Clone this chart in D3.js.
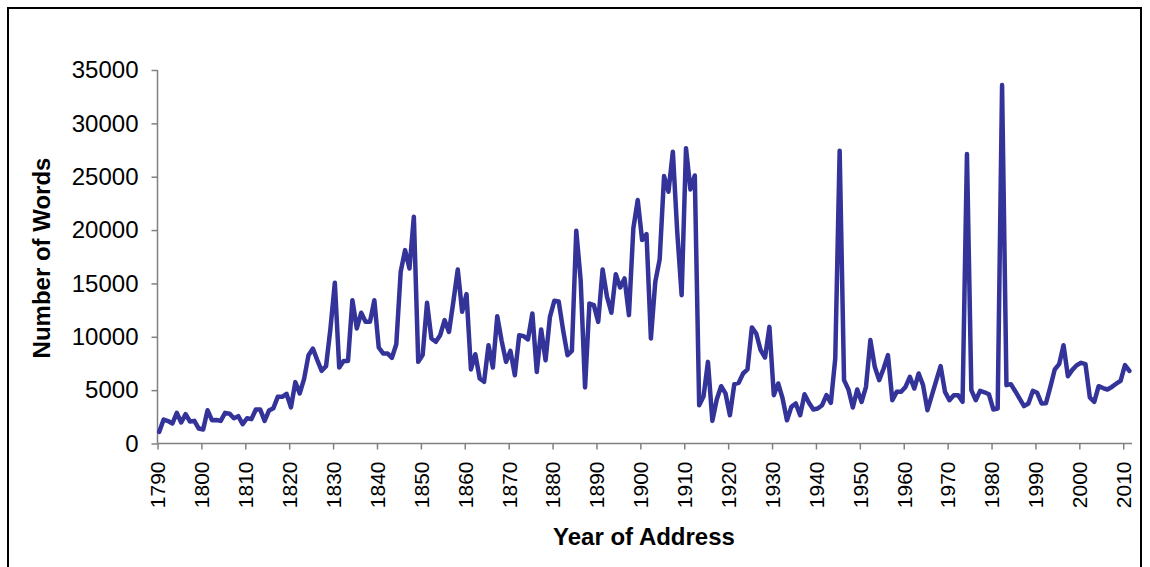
<!DOCTYPE html>
<html>
<head>
<meta charset="utf-8">
<script src="https://cdn.jsdelivr.net/npm/d3@7"></script>
<style>
  body { margin: 0; background: #fff; }
  text { font-family: "Liberation Sans", Arial, sans-serif; }
</style>
</head>
<body>
<svg id="chart" width="1150" height="567"></svg>
<script>
// Year of each address
const years = [
  1790, 1791, 1792, 1793, 1794, 1795, 1796, 1797, 1798, 1799,
  1800, 1801, 1802, 1803, 1804, 1805, 1806, 1807, 1808, 1809,
  1810, 1811, 1812, 1813, 1814, 1815, 1816, 1817, 1818, 1819,
  1820, 1821, 1822, 1823, 1824, 1825, 1826, 1827, 1828, 1829,
  1830, 1831, 1832, 1833, 1834, 1835, 1836, 1837, 1838, 1839,
  1840, 1841, 1842, 1843, 1844, 1845, 1846, 1847, 1848, 1849,
  1850, 1851, 1852, 1853, 1854, 1855, 1856, 1857, 1858, 1859,
  1860, 1861, 1862, 1863, 1864, 1865, 1866, 1867, 1868, 1869,
  1870, 1871, 1872, 1873, 1874, 1875, 1876, 1877, 1878, 1879,
  1880, 1881, 1882, 1883, 1884, 1885, 1886, 1887, 1888, 1889,
  1890, 1891, 1892, 1893, 1894, 1895, 1896, 1897, 1898, 1899,
  1900, 1901, 1902, 1903, 1904, 1905, 1906, 1907, 1908, 1909,
  1910, 1911, 1912, 1913, 1914, 1915, 1916, 1917, 1918, 1919,
  1920, 1921, 1922, 1923, 1924, 1925, 1926, 1927, 1928, 1929,
  1930, 1931, 1932, 1933, 1934, 1935, 1936, 1937, 1938, 1939,
  1940, 1941, 1942, 1943, 1944, 1945, 1946, 1947, 1948, 1949,
  1950, 1951, 1952, 1953, 1954, 1955, 1956, 1957, 1958, 1959,
  1960, 1961, 1962, 1963, 1964, 1965, 1966, 1967, 1968, 1969,
  1970, 1971, 1972, 1973, 1974, 1975, 1976, 1977, 1978, 1979,
  1980, 1981, 1982, 1983, 1984, 1985, 1986, 1987, 1988, 1989,
  1990, 1991, 1992, 1993, 1994, 1995, 1996, 1997, 1998, 1999,
  2000, 2001, 2002, 2003, 2004, 2005, 2006, 2007, 2008, 2009,
  2010, 2011
];

// Number of words
const words = [
  1090, 2250, 2100, 1880, 2870, 1970, 2750, 2060, 2120, 1400,
  1310, 3120, 2190, 2200, 2120, 2870, 2800, 2370, 2560, 1810,
  2370, 2280, 3190, 3190, 2120, 3090, 3310, 4370, 4370, 4650,
  3380, 5750, 4690, 6060, 8280, 8900, 7810, 6810, 7250, 10780,
  15060, 7120, 7740, 7740, 13430, 10780, 12250, 11400, 11400, 13430,
  9000, 8440, 8440, 8030, 9300, 16090, 18120, 16400, 21250, 7650,
  8280, 13180, 9840, 9530, 10150, 11560, 10460, 13300, 16310, 12340,
  14000, 6940, 8370, 6090, 5780, 9215, 7120, 11930, 9620, 7650,
  8680, 6400, 10150, 10060, 9750, 12190, 6710, 10690, 7810, 11870,
  13370, 13300, 10620, 8280, 8680, 19930, 15310, 5250, 13120, 12960,
  11400, 16310, 13750, 12250, 15870, 14620, 15470, 12030, 20160, 22810,
  19060, 19620, 9840, 15150, 17250, 25060, 23590, 27340, 19840, 13900,
  27660, 23810, 25120, 3590, 4430, 7650, 2120, 4120, 5370, 4690,
  2650, 5560, 5680, 6560, 6940, 10875, 10310, 8750, 8060, 10930,
  4530, 5625, 4220, 2185, 3430, 3750, 2650, 4620, 3810, 3190,
  3280, 3590, 4530, 3810, 7970, 27430, 5935, 5060, 3375, 5060,
  3900, 5310, 9690, 7190, 5935, 7000, 8280, 4060, 4840, 4840,
  5300, 6250, 5150, 6560, 5470, 3120, 4500, 5900, 7250, 4840,
  4060, 4530, 4530, 3900, 27120, 5000, 4060, 4930, 4800, 4620,
  3190, 3280, 33590, 5470, 5560, 4900, 4200, 3500, 3750, 4930,
  4750, 3750, 3780, 5300, 6940, 7435, 9215, 6310, 6900, 7340,
  7560, 7435, 4310, 3900, 5370, 5200, 5060, 5300, 5600, 5870,
  7340, 6800
];

const xTicks = [1790, 1800, 1810, 1820, 1830, 1840, 1850, 1860, 1870, 1880, 1890,
                1900, 1910, 1920, 1930, 1940, 1950, 1960, 1970, 1980, 1990, 2000, 2010];
const yTicks = [0, 5000, 10000, 15000, 20000, 25000, 30000, 35000];

const xTitle = "Year of Address";
const yTitle = "Number of Words";

const data = years.map((yr, i) => ({ year: yr, value: words[i] }));

const svg = d3.select("#chart");

// outer frame
svg.append("rect")
  .attr("x", 8)
  .attr("y", 8)
  .attr("width", 1133)
  .attr("height", 580)
  .attr("fill", "none")
  .attr("stroke", "#000")
  .attr("stroke-width", 2);

const x = d3.scaleLinear([1790, 2012], [157.5, 1132]);
const y = d3.scaleLinear([0, 35000], [443.5, 70]);

const axisColor = "#808080";

// y axis
const yAxis = svg.append("g")
  .attr("transform", `translate(${x(1790)},0)`)
  .call(d3.axisLeft(y).tickValues(yTicks).tickFormat(d3.format("d")).tickSize(6).tickPadding(13));
yAxis.select(".domain").attr("stroke", axisColor).attr("stroke-width", 1.5).attr("d", `M0,${y(35000)}V${y(0)}`);
yAxis.selectAll(".tick line").attr("stroke", axisColor).attr("stroke-width", 1.5);
yAxis.selectAll(".tick text")
  .attr("fill", "#000")
  .style("font-size", "24px")
  .style("font-family", "'Liberation Sans', Arial, sans-serif");

// x axis
const xAxis = svg.append("g")
  .attr("transform", `translate(0,${y(0)})`)
  .call(d3.axisBottom(x).tickValues(xTicks).tickFormat(d3.format("d")).tickSize(6));
xAxis.select(".domain").attr("stroke", axisColor).attr("stroke-width", 1.5).attr("d", `M${x(1790)},0H${x(2012)}`);
xAxis.selectAll(".tick line").attr("stroke", axisColor).attr("stroke-width", 1.5);
xAxis.selectAll(".tick text")
  .attr("fill", "#000")
  .attr("transform", "rotate(-90)")
  .attr("text-anchor", "end")
  .attr("x", -18)
  .attr("y", 0)
  .attr("dy", "0.35em")
  .style("font-size", "21px")
  .style("font-family", "'Liberation Sans', Arial, sans-serif");

// line
const line = d3.line()
  .x(d => x(d.year + 0.4))
  .y(d => y(d.value));

svg.append("path")
  .datum(data)
  .attr("d", line)
  .attr("fill", "none")
  .attr("stroke", "#333399")
  .attr("stroke-width", 4.5)
  .attr("stroke-linejoin", "round")
  .attr("stroke-linecap", "round");

// axis titles
svg.append("text")
  .attr("x", 644)
  .attr("y", 545)
  .attr("text-anchor", "middle")
  .style("font-size", "24px")
  .style("font-weight", "bold")
  .text(xTitle);

svg.append("text")
  .attr("transform", "translate(50,258) rotate(-90)")
  .attr("text-anchor", "middle")
  .style("font-size", "24px")
  .style("font-weight", "bold")
  .text(yTitle);
</script>
</body>
</html>
